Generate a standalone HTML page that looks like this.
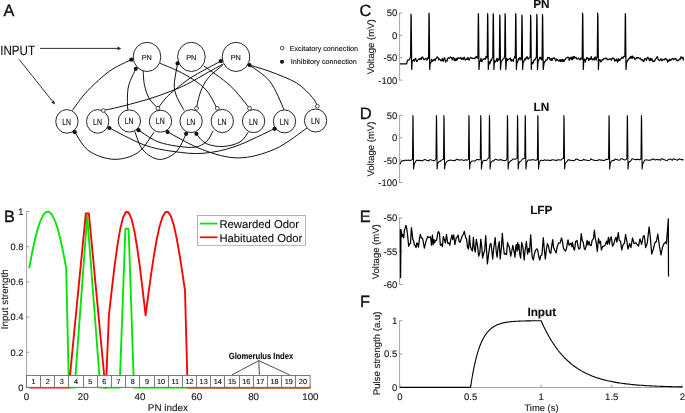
<!DOCTYPE html>
<html><head><meta charset="utf-8"><title>Figure</title>
<style>
html,body{margin:0;padding:0;background:#fff;width:685px;height:413px;overflow:hidden}
svg{display:block}
text{font-family:"Liberation Sans",Arial,Helvetica,sans-serif;text-rendering:geometricPrecision;stroke:#111;stroke-width:0.12px}
.pl{stroke-width:0.35px}
</style></head><body>
<svg width="685" height="413" viewBox="0 0 685 413">
<g id="panelA">
<text x="3.6" y="15.7" font-size="16.3" fill="#111" class="pl">A</text>
<text x="0.2" y="54.7" font-size="13.4" textLength="34.8" lengthAdjust="spacingAndGlyphs" fill="#111">INPUT</text>
<path d="M40 48.4H118" stroke="#333" stroke-width="1" fill="none"/>
<path d="M121.2 48.4L117.6 46.6L117.6 50.2Z" fill="#222"/>
<path d="M19 59.3L52.6 101.4" stroke="#333" stroke-width="1" fill="none"/>
<path d="M55 104.4L51.22 102.55L54.04 100.31Z" fill="#222"/>
<path d="M72.4 110.4C74.3 107.83 79.47 100 83.8 95C88.13 90 93.53 84.77 98.4 80.4C103.27 76.03 107.52 72.25 113 68.8C118.48 65.35 128.25 61.22 131.3 59.7" stroke="#111" stroke-width="1.0" fill="none"/>
<path d="M127.8 110C127.73 108.02 127.22 102.33 127.4 98.1C127.58 93.87 127.5 89.48 128.9 84.6C130.3 79.72 134.65 71.43 135.8 68.8" stroke="#111" stroke-width="1.0" fill="none"/>
<path d="M143.2 71C143.4 73.27 143.43 80.08 144.4 84.6C145.37 89.12 146.77 94.17 149 98.1C151.23 102.03 156.33 106.52 157.8 108.2" stroke="#111" stroke-width="1.0" fill="none"/>
<path d="M159.6 63.2C162.5 64.42 171.35 67.75 177 70.5C182.65 73.25 188.5 76.28 193.5 79.7C198.5 83.12 203.12 86.28 207 91C210.88 95.72 215.17 105.17 216.8 108" stroke="#111" stroke-width="1.0" fill="none"/>
<path d="M103.5 110.4C106.25 109.8 112.25 108.77 120 106.8C127.75 104.83 140.77 101.5 150 98.6C159.23 95.7 168.73 92.07 175.4 89.4C182.07 86.73 184.9 85.25 190 82.6C195.1 79.95 200.45 76.6 206 73.5C211.55 70.4 220.42 65.58 223.3 64" stroke="#111" stroke-width="1.0" fill="none"/>
<path d="M158.6 107.4C159.83 105.8 163.2 100.8 166 97.8C168.8 94.8 171.4 92.67 175.4 89.4C179.4 86.13 185.07 81.5 190 78.2C194.93 74.9 199.87 72.45 205 69.6C210.13 66.75 218.17 62.52 220.8 61.1" stroke="#111" stroke-width="1.0" fill="none"/>
<path d="M184.2 110.6C182.92 108.17 178.15 100.43 176.5 96C174.85 91.57 174.12 89.43 174.3 84C174.48 78.57 177.05 66.83 177.6 63.4" stroke="#111" stroke-width="1.0" fill="none"/>
<path d="M196.4 108.2C197.08 105.5 198.57 97 200.5 92C202.43 87 204.32 82.67 208 78.2C211.68 73.73 220.17 67.37 222.6 65.2" stroke="#111" stroke-width="1.0" fill="none"/>
<path d="M203.7 65.9C208.08 69.17 222.37 78.45 230 85.5C237.63 92.55 246.25 104.42 249.5 108.2" stroke="#111" stroke-width="1.0" fill="none"/>
<path d="M249.4 65.1C252.83 67.85 264.22 74.18 270 81.6C275.78 89.02 281.75 104.93 284.1 109.6" stroke="#111" stroke-width="1.0" fill="none"/>
<path d="M249.4 65.1C252.83 66.17 262.13 68.52 270 71.5C277.87 74.48 289.53 78.68 296.6 83C303.67 87.32 308.93 93.55 312.4 97.4C315.87 101.25 316.57 104.65 317.4 106.1" stroke="#111" stroke-width="1.0" fill="none"/>
<path d="M74.8 132.2C77.17 135.33 82.47 146.48 89 151C95.53 155.52 105.83 159.05 114 159.3C122.17 159.55 131.33 157.02 138 152.5C144.67 147.98 151.33 135.58 154 132.2" stroke="#111" stroke-width="1.0" fill="none"/>
<path d="M109.5 128C115.22 130.8 133.22 140.9 143.8 144.8C154.38 148.7 163.13 149.98 173 151.4C182.87 152.82 192.67 154.12 203 153.3C213.33 152.48 223.08 150.6 235 146.5C246.92 142.4 267.92 131.67 274.5 128.7" stroke="#111" stroke-width="1.0" fill="none"/>
<path d="M138.5 130.2C142.08 132.25 151.2 139.63 160 142.5C168.8 145.37 183.63 147.48 191.3 147.4C198.97 147.32 202.37 144.77 206 142C209.63 139.23 211.92 132.67 213.1 130.8" stroke="#111" stroke-width="1.0" fill="none"/>
<path d="M134.7 131.3C136.08 134.42 138.9 145.32 143 150C147.1 154.68 153.8 159.07 159.3 159.4C164.8 159.73 171.52 156.25 176 152C180.48 147.75 184.5 136.92 186.2 133.9" stroke="#111" stroke-width="1.0" fill="none"/>
<path d="M167.7 132C173.52 134.95 190.8 145.38 202.6 149.7C214.4 154.02 226.43 158.02 238.5 157.9C250.57 157.78 263.6 153.97 275 149C286.4 144.03 301.58 131.58 306.9 128.1" stroke="#111" stroke-width="1.0" fill="none"/>
<path d="M196.4 133.9C198 135.5 201.6 141.4 206 143.5C210.4 145.6 217.13 146.75 222.8 146.5C228.47 146.25 235.77 144.38 240 142C244.23 139.62 246.83 133.83 248.2 132.2" stroke="#111" stroke-width="1.0" fill="none"/>
<ellipse cx="147" cy="56.9" rx="13.8" ry="14.6" fill="#fff" stroke="#111" stroke-width="0.9"/>
<text x="146.8" y="60.3" font-size="7.3" text-anchor="middle" fill="#111">PN</text>
<ellipse cx="191.4" cy="56.9" rx="13.8" ry="14.6" fill="#fff" stroke="#111" stroke-width="0.9"/>
<text x="191.2" y="60.3" font-size="7.3" text-anchor="middle" fill="#111">PN</text>
<ellipse cx="236" cy="56.9" rx="13.8" ry="14.6" fill="#fff" stroke="#111" stroke-width="0.9"/>
<text x="235.8" y="60.3" font-size="7.3" text-anchor="middle" fill="#111">PN</text>
<ellipse cx="66.9" cy="121.4" rx="11.15" ry="11.8" fill="#fff" stroke="#111" stroke-width="0.9"/>
<text x="66.7" y="124.6" font-size="9.0" text-anchor="middle" textLength="8.9" lengthAdjust="spacingAndGlyphs" fill="#111">LN</text>
<ellipse cx="97.7" cy="121.4" rx="11.15" ry="11.8" fill="#fff" stroke="#111" stroke-width="0.9"/>
<text x="97.5" y="124.6" font-size="9.0" text-anchor="middle" textLength="8.9" lengthAdjust="spacingAndGlyphs" fill="#111">LN</text>
<ellipse cx="129.4" cy="121" rx="11.15" ry="11.1" fill="#fff" stroke="#111" stroke-width="0.9"/>
<text x="129.2" y="123.5" font-size="9.0" text-anchor="middle" textLength="8.9" lengthAdjust="spacingAndGlyphs" fill="#111">LN</text>
<ellipse cx="160.5" cy="121.2" rx="11.15" ry="11" fill="#fff" stroke="#111" stroke-width="0.9"/>
<text x="160.3" y="123.6" font-size="9.0" text-anchor="middle" textLength="8.9" lengthAdjust="spacingAndGlyphs" fill="#111">LN</text>
<ellipse cx="191.1" cy="121.1" rx="11.15" ry="11.5" fill="#fff" stroke="#111" stroke-width="0.9"/>
<text x="190.9" y="124.6" font-size="9.0" text-anchor="middle" textLength="8.9" lengthAdjust="spacingAndGlyphs" fill="#111">LN</text>
<ellipse cx="222.3" cy="121" rx="11.15" ry="11.6" fill="#fff" stroke="#111" stroke-width="0.9"/>
<text x="222.1" y="124.6" font-size="9.0" text-anchor="middle" textLength="8.9" lengthAdjust="spacingAndGlyphs" fill="#111">LN</text>
<ellipse cx="253.6" cy="121.1" rx="11.15" ry="11.5" fill="#fff" stroke="#111" stroke-width="0.9"/>
<text x="253.4" y="124.6" font-size="9.0" text-anchor="middle" textLength="8.9" lengthAdjust="spacingAndGlyphs" fill="#111">LN</text>
<ellipse cx="284.5" cy="121.4" rx="11.15" ry="11.5" fill="#fff" stroke="#111" stroke-width="0.9"/>
<text x="284.3" y="124.8" font-size="9.0" text-anchor="middle" textLength="8.9" lengthAdjust="spacingAndGlyphs" fill="#111">LN</text>
<ellipse cx="315.6" cy="120.5" rx="11.15" ry="11.5" fill="#fff" stroke="#111" stroke-width="0.9"/>
<text x="315.4" y="123.9" font-size="9.0" text-anchor="middle" textLength="8.9" lengthAdjust="spacingAndGlyphs" fill="#111">LN</text>
<circle cx="131.3" cy="59.7" r="2.1" fill="#111"/>
<circle cx="135.8" cy="68.8" r="2.1" fill="#111"/>
<circle cx="177.6" cy="63.4" r="2.1" fill="#111"/>
<circle cx="220.8" cy="61.1" r="2.1" fill="#111"/>
<circle cx="249.5" cy="65" r="2.1" fill="#111"/>
<circle cx="74.7" cy="132.2" r="2.1" fill="#111"/>
<circle cx="109.4" cy="128" r="2.1" fill="#111"/>
<circle cx="138.5" cy="130.2" r="2.1" fill="#111"/>
<circle cx="167.6" cy="132" r="2.1" fill="#111"/>
<circle cx="186.1" cy="133.8" r="2.1" fill="#111"/>
<circle cx="196.4" cy="133.8" r="2.1" fill="#111"/>
<circle cx="274.6" cy="128.8" r="2.1" fill="#111"/>
<circle cx="103.3" cy="110.5" r="1.9" fill="#fff" stroke="#222" stroke-width="0.8"/>
<circle cx="157.9" cy="108.3" r="1.9" fill="#fff" stroke="#222" stroke-width="0.8"/>
<circle cx="196.5" cy="108.3" r="1.9" fill="#fff" stroke="#222" stroke-width="0.8"/>
<circle cx="217.3" cy="108.3" r="1.9" fill="#fff" stroke="#222" stroke-width="0.8"/>
<circle cx="249.5" cy="108.3" r="1.9" fill="#fff" stroke="#222" stroke-width="0.8"/>
<circle cx="317.4" cy="106.2" r="1.9" fill="#fff" stroke="#222" stroke-width="0.8"/>
<circle cx="282.2" cy="48.1" r="1.8" fill="#fff" stroke="#222" stroke-width="0.8"/>
<circle cx="282.0" cy="61.8" r="2.0" fill="#111"/>
<text x="289.7" y="50.6" font-size="7.2" fill="#111">Excitatory connection</text>
<text x="290.8" y="64.4" font-size="7.2" fill="#111">Inhibitory connection</text>
</g>
<g id="panelB">
<text x="3.9" y="221.8" font-size="16.3" fill="#111" class="pl">B</text>
<path d="M26.6 211.3V387.6H310.5" stroke="#8c8c8c" stroke-width="0.8" fill="none"/>
<path d="M26.6 387.5H29.4" stroke="#8c8c8c" stroke-width="0.8"/>
<text x="23.5" y="390.8" font-size="9.3" text-anchor="end" fill="#1a1a1a">0</text>
<path d="M26.6 352.3H29.4" stroke="#8c8c8c" stroke-width="0.8"/>
<text x="23.5" y="355.6" font-size="9.3" text-anchor="end" fill="#1a1a1a">0.2</text>
<path d="M26.6 317.1H29.4" stroke="#8c8c8c" stroke-width="0.8"/>
<text x="23.5" y="320.4" font-size="9.3" text-anchor="end" fill="#1a1a1a">0.4</text>
<path d="M26.6 281.9H29.4" stroke="#8c8c8c" stroke-width="0.8"/>
<text x="23.5" y="285.2" font-size="9.3" text-anchor="end" fill="#1a1a1a">0.6</text>
<path d="M26.6 246.7H29.4" stroke="#8c8c8c" stroke-width="0.8"/>
<text x="23.5" y="250" font-size="9.3" text-anchor="end" fill="#1a1a1a">0.8</text>
<path d="M26.6 211.5H29.4" stroke="#8c8c8c" stroke-width="0.8"/>
<text x="23.5" y="214.8" font-size="9.3" text-anchor="end" fill="#1a1a1a">1</text>
<path d="M26.4 387.6V384.8" stroke="#8c8c8c" stroke-width="0.8"/>
<text x="26.4" y="399.8" font-size="9.8" text-anchor="middle" fill="#1a1a1a">0</text>
<path d="M83.2 387.6V384.8" stroke="#8c8c8c" stroke-width="0.8"/>
<text x="83.2" y="399.8" font-size="9.8" text-anchor="middle" fill="#1a1a1a">20</text>
<path d="M140 387.6V384.8" stroke="#8c8c8c" stroke-width="0.8"/>
<text x="140" y="399.8" font-size="9.8" text-anchor="middle" fill="#1a1a1a">40</text>
<path d="M196.8 387.6V384.8" stroke="#8c8c8c" stroke-width="0.8"/>
<text x="196.8" y="399.8" font-size="9.8" text-anchor="middle" fill="#1a1a1a">60</text>
<path d="M253.6 387.6V384.8" stroke="#8c8c8c" stroke-width="0.8"/>
<text x="253.6" y="399.8" font-size="9.8" text-anchor="middle" fill="#1a1a1a">80</text>
<path d="M310.4 387.6V384.8" stroke="#8c8c8c" stroke-width="0.8"/>
<text x="310.4" y="399.8" font-size="9.8" text-anchor="middle" fill="#1a1a1a">100</text>
<text x="167.9" y="410.8" font-size="9.9" text-anchor="middle" fill="#1a1a1a">PN index</text>
<text transform="translate(8.4 299.3) rotate(-90)" font-size="9.8" text-anchor="middle" fill="#1a1a1a">Input strength</text>
<path d="M29.24 268.14L32.08 252.72L34.92 239.47L37.76 228.6L40.6 220.3L43.44 214.68L46.28 211.85L49.12 211.85L51.96 214.68L54.8 220.3L57.64 228.6L60.48 239.47L63.32 252.72L66.16 268.14L68.9 387.6L74.6 387.6L87.2 215.7L100.3 387.6L119.6 387.6L125.4 228.7L128.6 228.7L134 387.6L310.4 387.6" stroke="#00e600" stroke-width="1.85" fill="none" stroke-linejoin="round"/>
<path d="M29.24 387.6L68.8 387.6L85.8 213.5L88.9 213.5L105.3 387.6L105.9 387.6L108.9 315.4L111.72 290.15L114.55 266.47L117.37 245.71L120.19 229.1L123.02 217.65L125.84 212.03L128.66 212.52L131.48 218.86L134.31 230.65L137.13 247.24L139.95 267.68L142.78 290.82L145.6 315.34L148.41 293.94L151.23 273.46L154.04 254.78L156.86 238.7L159.67 225.91L162.49 216.95L165.3 212.22L168.11 211.94L170.93 216.29L173.74 225.06L176.56 237.72L179.37 253.53L182.19 271.55L185 290.7L187.6 387.6L310.4 387.6" stroke="#ff0000" stroke-width="1.85" fill="none" stroke-linejoin="round"/>
<g stroke="#6e6e6e" stroke-width="0.9" fill="none">
<rect x="26.5" y="375.5" width="283.6" height="11.8" fill="#fff"/>
<path d="M40.5 375.5V387.3"/>
<path d="M54.5 375.5V387.3"/>
<path d="M68.5 375.5V387.3"/>
<path d="M83.5 375.5V387.3"/>
<path d="M97.5 375.5V387.3"/>
<path d="M111.5 375.5V387.3"/>
<path d="M125.5 375.5V387.3"/>
<path d="M139.5 375.5V387.3"/>
<path d="M154.5 375.5V387.3"/>
<path d="M168.5 375.5V387.3"/>
<path d="M182.5 375.5V387.3"/>
<path d="M196.5 375.5V387.3"/>
<path d="M210.5 375.5V387.3"/>
<path d="M224.5 375.5V387.3"/>
<path d="M239.5 375.5V387.3"/>
<path d="M253.5 375.5V387.3"/>
<path d="M267.5 375.5V387.3"/>
<path d="M281.5 375.5V387.3"/>
<path d="M295.5 375.5V387.3"/>
</g>
<text x="33.49" y="384.2" font-size="7.3" text-anchor="middle" fill="#111">1</text>
<text x="47.67" y="384.2" font-size="7.3" text-anchor="middle" fill="#111">2</text>
<text x="61.85" y="384.2" font-size="7.3" text-anchor="middle" fill="#111">3</text>
<text x="76.03" y="384.2" font-size="7.3" text-anchor="middle" fill="#111">4</text>
<text x="90.21" y="384.2" font-size="7.3" text-anchor="middle" fill="#111">5</text>
<text x="104.39" y="384.2" font-size="7.3" text-anchor="middle" fill="#111">6</text>
<text x="118.57" y="384.2" font-size="7.3" text-anchor="middle" fill="#111">7</text>
<text x="132.75" y="384.2" font-size="7.3" text-anchor="middle" fill="#111">8</text>
<text x="146.93" y="384.2" font-size="7.3" text-anchor="middle" fill="#111">9</text>
<text x="161.11" y="384.2" font-size="7.3" text-anchor="middle" fill="#111">10</text>
<text x="175.29" y="384.2" font-size="7.3" text-anchor="middle" fill="#111">11</text>
<text x="189.47" y="384.2" font-size="7.3" text-anchor="middle" fill="#111">12</text>
<text x="203.65" y="384.2" font-size="7.3" text-anchor="middle" fill="#111">13</text>
<text x="217.83" y="384.2" font-size="7.3" text-anchor="middle" fill="#111">14</text>
<text x="232.01" y="384.2" font-size="7.3" text-anchor="middle" fill="#111">15</text>
<text x="246.19" y="384.2" font-size="7.3" text-anchor="middle" fill="#111">16</text>
<text x="260.37" y="384.2" font-size="7.3" text-anchor="middle" fill="#111">17</text>
<text x="274.55" y="384.2" font-size="7.3" text-anchor="middle" fill="#111">18</text>
<text x="288.73" y="384.2" font-size="7.3" text-anchor="middle" fill="#111">19</text>
<text x="302.91" y="384.2" font-size="7.3" text-anchor="middle" fill="#111">20</text>
<text x="261" y="359.1" font-size="8.9" font-weight="bold" text-anchor="middle" fill="#111" textLength="64.5" lengthAdjust="spacingAndGlyphs">Glomerulus Index</text>
<path d="M232 374.9L258.8 360.6L259.4 374.9M258.8 360.6L289.6 374.9" stroke="#222" stroke-width="0.8" fill="none"/>
<rect x="197.4" y="215.5" width="108.2" height="29.8" fill="#fff" stroke="#a0a0a0" stroke-width="0.8"/>
<path d="M199.9 223.6H217.5" stroke="#00e600" stroke-width="1.7"/>
<path d="M199.9 237.3H217.5" stroke="#ff0000" stroke-width="1.7"/>
<text x="219.4" y="227.9" font-size="11.3" fill="#111">Rewarded Odor</text>
<text x="219.4" y="241.6" font-size="11.3" fill="#111">Habituated Odor</text>
</g>
<g id="panelC">
<text x="359.6" y="15.5" font-size="16.3" fill="#111" class="pl">C</text>
<text x="541.4" y="8.1" font-size="11.8" font-weight="bold" text-anchor="middle" fill="#111">PN</text>
<path d="M399.6 12.6V80.4" stroke="#8c8c8c" stroke-width="0.8" fill="none"/><path d="M399.6 13H402.4" stroke="#8c8c8c" stroke-width="0.8"/><text x="397.3" y="16.4" font-size="9.5" text-anchor="end" fill="#1a1a1a">50</text><path d="M399.6 35.4H402.4" stroke="#8c8c8c" stroke-width="0.8"/><text x="397.3" y="38.8" font-size="9.5" text-anchor="end" fill="#1a1a1a">0</text><path d="M399.6 57.8H402.4" stroke="#8c8c8c" stroke-width="0.8"/><text x="397.3" y="61.2" font-size="9.5" text-anchor="end" fill="#1a1a1a">-50</text><path d="M399.6 80.2H402.4" stroke="#8c8c8c" stroke-width="0.8"/><text x="397.3" y="83.6" font-size="9.5" text-anchor="end" fill="#1a1a1a">-100</text>
<text transform="translate(374.4 46.9) rotate(-90)" font-size="9.5" text-anchor="middle" fill="#1a1a1a">Voltage (mV)</text>
<path d="M400 63.85L406.7 63.85L407.2 61.2L407.7 60.09L408.2 60.08L408.7 59.93L409.2 59.92L409.7 59.23L410.2 57.36L410.7 56.96L410.6 56.68L411 14.21L411.2 16.9L411.7 69.45L412.2 61.3L412.7 60.69L413.2 59.99L413.7 59.69L414.2 61.33L414.7 59.46L415.2 58.83L415.7 58.47L416.2 60.52L416.7 61.57L417.2 61.21L417.7 60.57L418.2 59.45L418.7 59.25L419.2 58.56L419.7 59.41L420.2 58.85L420.7 58.48L421.2 59.39L421.7 57.39L422.2 57.58L422.7 57.02L423.2 58.61L423.7 59.53L424.2 59.58L424.7 59.36L425.2 58.49L425.7 58.45L426.2 59.14L426.7 60.02L427.2 59.87L427.7 57.73L428.2 58.59L428.7 57.76L428.6 56.68L429 13.22L429.2 15.91L429.7 69.45L430.2 62.33L430.7 62.99L431.2 61.5L431.7 59.29L432.2 61.49L432.7 60.76L433.2 60.1L433.7 60.47L434.2 59.26L434.7 59.21L435.2 60.62L435.7 58.95L436.2 58.26L436.7 57.63L437.2 56.8L437.7 57.5L438.2 58.09L438.7 59.85L439.2 58.75L439.7 59.47L440.2 59.66L440.7 60.6L441.2 60.76L441.7 60.38L442.2 58.32L442.7 60.72L443.2 61.32L443.7 59.87L444.2 57.91L444.7 57.82L445.2 60.33L445.7 62.22L446.2 60.2L446.7 60.32L447.2 60.77L447.7 58.84L448.2 57.74L448.7 58.17L449.2 58.29L449.7 58.16L450.2 56.9L450.7 57.27L451.2 57.56L451.7 57.68L452.2 59.91L452.7 58.1L453.2 57.52L453.7 57.68L454.2 60.33L454.7 60.28L455.2 58.73L455.7 60.69L456.2 60L456.7 58.41L457.2 60.01L457.7 57.81L458.2 57.8L458.7 58.51L459.2 58.38L459.7 57.98L460.2 58.33L460.7 57.44L461.2 58.86L461.7 59.32L462.2 58.05L462.7 58.46L463.2 59.59L463.7 58.28L464.2 57.09L464.7 58.46L465.2 60.11L465.7 59.66L466.2 59.44L466.7 59.49L467.2 57.76L467.7 59.4L468.2 57.86L468.7 59.7L469.2 60.12L469.7 58.87L470.2 57.73L470.7 57.44L471.2 57.82L471.7 58.23L472.2 58.42L472.7 58.08L473.2 58.68L473.7 58.51L474.2 58.13L474.7 58.52L475.2 57.93L475.7 57.84L476.2 56.31L476.7 57.01L477.2 57.94L477.7 58.17L478.2 57.75L477.9 56.68L478.3 13.72L478.5 16.4L479 69.45L479.5 61.88L480 61.58L480.5 60.45L481 58.22L481.5 61.52L482 61.6L482.5 60.17L483 59.24L483.5 58.92L484 59.42L484.5 58.54L485 58.47L485.5 59.25L486 56.33L486.5 56.8L487 57.8L487.5 57.66L487.2 56.68L487.6 13.72L487.8 16.4L488.3 69.45L488.8 63L489.3 61.86L489.8 63.8L490.3 62.29L490.8 59.87L491.3 60.75L491.8 59.69L492.3 57.9L492.8 56.9L492.8 56.68L493.2 13.72L493.4 16.4L493.9 69.45L494.4 60.63L494.9 62.36L495.4 61.6L495.9 61.04L496.4 59.65L496.9 58.38L497.4 61.57L497.9 59.17L498.4 60.25L498.9 58.4L499.4 59.53L499.4 56.68L499.8 15.02L500 17.7L500.5 69.45L501 63.37L501.5 60.75L502 60.58L502.5 59.98L503 58.94L503.5 58.73L504 58.61L504.5 56.66L505 55.98L504.7 56.68L505.1 13.72L505.3 16.4L505.8 69.45L506.3 62.11L506.8 58.52L507.3 60.5L507.8 59.2L508.3 59.64L508.8 59.36L509.3 58.57L509.8 58.63L510.3 58.2L510.8 60.19L511.3 61.15L511.8 59.43L512.3 60.19L512.8 60.63L513.3 61.3L513.8 58.75L514.3 57.7L514.8 56.26L515.3 57.85L515.3 56.68L515.7 13.72L515.9 16.4L516.4 69.45L516.9 62.77L517.4 62.85L517.9 60.7L518.4 58.6L518.9 59.98L519.4 58.06L519.9 57.63L520.4 58.24L520.9 60.19L521.4 57.49L521.5 56.68L521.9 15.02L522.1 17.7L522.6 69.45L523.1 62.56L523.6 62.2L524.1 60.74L524.6 59.84L525.1 58.14L525.6 59.8L526.1 58.35L526.6 57.21L527.1 56.65L527.6 58.03L528.1 59.28L528.6 58.08L529.1 58.07L529.6 57.88L530.1 56.27L530.2 56.68L530.6 15.02L530.8 17.7L531.3 69.45L531.8 62.2L532.3 63.76L532.8 62.34L533.3 62.97L533.8 60.41L534.3 59.56L534.8 60.03L535.3 59.26L535.8 57.81L536.3 57.67L536.4 56.68L536.8 14.43L537 17.12L537.5 69.45L538 61.19L538.5 60.95L539 59.46L539.5 58.08L540 57.15L540.5 58.95L541 57.85L541.5 59.93L542 59.95L542.1 56.68L542.5 14.7L542.7 17.39L543.2 69.45L543.7 65.68L544.2 62.03L544.7 62.34L545.2 61.07L545.7 60.5L546.2 59.96L546.7 60.21L547.2 59.44L547.7 57.41L548.2 58.18L548.7 58.04L549.2 57.48L549.7 58.43L550.2 59.99L550.7 60.04L551.2 58.38L551.7 60.35L552.2 60.26L552.7 58.55L553.2 57.92L553.7 58.41L554.2 57.84L554.7 58.21L555.2 59.78L555.7 60.96L556.2 60.6L556.7 58.81L557.2 59.45L557.7 60.11L558.2 60.31L558.7 61.19L559.2 60.18L559.7 60.76L560.2 59.47L560.7 61.63L561.2 59.93L561.7 60.09L562.2 61.51L562.7 59.47L563.2 59.48L563.7 61.5L564.2 61.11L564.7 59.72L565.2 59.79L565.7 58.55L566.2 57.97L566.7 57.76L567.2 58L567.7 57.09L568.2 57.32L568.7 57.66L569.2 60.44L569.7 58.75L570.2 57.49L570.7 58.51L571.2 59.2L571.7 57.06L572.2 59.8L572.7 58.88L573.2 56.4L573.7 58.62L574.2 58.06L574.7 56.55L575.2 57.86L575.7 57.81L576.2 57.43L576.7 59.11L577.2 59.11L577.7 58.71L578.2 57.97L578.7 58.48L579.2 58.9L579.7 59.96L580.2 59.81L580.7 58.38L581.2 58.17L581.7 58.89L582.2 59.07L582.2 56.68L582.6 13.22L582.8 15.91L583.3 69.45L583.8 60.63L584.3 59.44L584.8 59.12L585.3 62.12L585.8 60.19L586.3 59.28L586.8 57.52L587.3 57.89L587.8 58.56L588.3 58.26L588.8 60.63L589.3 58.74L589.8 58.52L590.3 59.46L590.8 57.83L591.3 56.52L591.8 59.17L592.3 59.74L592.8 59.03L593.3 58.79L593.8 59.27L594.3 60.1L594.8 57.32L595.3 57.05L595.8 59.15L596.3 60.05L596.8 57.19L597.3 56.33L597.3 56.68L597.7 13.22L597.9 15.91L598.4 69.45L598.9 60.14L599.4 59.53L599.9 60.72L600.4 59.98L600.9 61.98L601.4 61.44L601.9 60.4L602.4 59.23L602.9 59.91L603.4 59.6L603.9 58.83L604.4 58.52L604.9 58.08L605.4 58.3L605.9 58.96L606.4 58.13L606.9 58.48L607.4 59.56L607.9 59.89L608.4 59.41L608.9 59.28L609.4 58.94L609.9 58.93L610.4 58.74L610.9 58.97L611.4 60.24L611.9 59.15L612.4 57.95L612.9 57.99L613.4 58.65L613.9 58.32L614.4 59.62L614.9 61.22L615.4 60.01L615.9 60.42L616.4 58.91L616.9 60.03L617.4 62.18L617.9 61.62L618.4 58.65L618.9 59.18L619.4 60.46L619.9 60.48L620.4 59.16L620.9 58.53L621.4 58.54L621.9 57.2L622.4 57.33L622.9 58.15L623.4 57.85L623.9 56.31L624.4 56.08L624.9 55.74L624.9 56.68L625.3 13.72L625.5 16.4L626 69.45L626.5 62.83L627 61.86L627.5 60.24L628 60.31L628.5 58.82L629 58.48L629.5 57.92L630 58.75L630.5 56.29L631 56.39L631.5 57.92L632 58.35L632.5 55.98L633 57.82L633.5 57.48L634 57.2L634.5 58.06L635 59.7L635.5 59.12L636 58.65L636.5 57.62L637 57.47L637.5 58.17L638 57.66L638.5 57.74L639 58.12L639.5 58.46L640 58.94L640.5 58.22L641 59.66L641.5 59.94L642 59.42L642.5 60.68L643 60.25L643.5 61.65L644 60.99L644.5 59.37L645 58.56L645.5 58.8L646 59.1L646.5 60.47L647 57.81L647.5 57.83L648 57.25L648.5 58.99L649 59.15L649.5 60.91L650 59.11L650.5 58.05L651 60.44L651.5 59.73L652 58.68L652.5 60.61L653 61.65L653.5 61.38L654 60.8L654.5 61.31L655 60.08L655.5 59.24L656 58.43L656.5 57.95L657 56.89L657.5 56.7L658 59.16L658.5 59.56L659 60.33L659.5 60.74L660 59.91L660.5 59.41L661 58.66L661.5 60.43L662 60.95L662.5 59.96L663 59.64L663.5 59.6L664 59.33L664.5 59.91L665 58.69L665.5 58.44L666 58.77L666.5 59.54L667 59.41L667.5 61.97L668 61.46L668.5 60.15L669 61.08L669.5 59.8L670 59.21L670.5 60.48L671 59.96L671.5 59.76L672 58.87L672.5 58.26L673 58.63L673.5 59.65L674 59.43L674.5 59.24L675 58.33L675.5 58.32L676 59.36L676.5 60.54L677 60.11L677.5 60.28L678 60.75L678.5 59.95L679 59.94L679.5 59.32L680 58.58L680.5 59.18L681 56.65L681.5 58.12L682 57.38L682.5 58.03L683 57.32L683.5 60.57" stroke="#000" stroke-width="1.2" fill="none" stroke-linejoin="round"/>
</g>
<g id="panelD">
<text x="359.8" y="118.7" font-size="16.5" fill="#111" class="pl">D</text>
<text x="541.4" y="110.7" font-size="11.8" font-weight="bold" text-anchor="middle" fill="#111">LN</text>
<path d="M399.6 115.3V182.9" stroke="#8c8c8c" stroke-width="0.8" fill="none"/><path d="M399.6 115.45H402.4" stroke="#8c8c8c" stroke-width="0.8"/><text x="397.3" y="118.85" font-size="9.5" text-anchor="end" fill="#1a1a1a">50</text><path d="M399.6 137.8H402.4" stroke="#8c8c8c" stroke-width="0.8"/><text x="397.3" y="141.2" font-size="9.5" text-anchor="end" fill="#1a1a1a">0</text><path d="M399.6 160.15H402.4" stroke="#8c8c8c" stroke-width="0.8"/><text x="397.3" y="163.55" font-size="9.5" text-anchor="end" fill="#1a1a1a">-50</text><path d="M399.6 182.5H402.4" stroke="#8c8c8c" stroke-width="0.8"/><text x="397.3" y="185.9" font-size="9.5" text-anchor="end" fill="#1a1a1a">-100</text>
<text transform="translate(374.4 149.1) rotate(-90)" font-size="9.5" text-anchor="middle" fill="#1a1a1a">Voltage (mV)</text>
<path d="M400 164.4L400 164.4L400.5 162.69L401 162.01L401.5 161.56L402 161.14L402.5 160.83L403 160.58L403.5 160.62L404 160.53L404.5 160.62L405 160.21L405.5 160.13L406 160.31L406.5 160.38L407 160.48L407.5 160.31L408 160.27L408.5 159.99L409 160.19L409.5 160.37L410 160.62L410.5 160.16L411 160.16L411.5 160.08L412 159.55L412.5 159.42L412.5 158.04L412.9 115.45L413.1 118.13L413.6 169.09L414.1 164.69L414.6 163.52L415.1 162.49L415.6 161.32L416.1 160.91L416.6 160.37L417.1 160.41L417.6 160.14L418.1 160.52L418.6 160.49L419.1 160.27L419.6 160.23L420.1 160.66L420.6 160.84L421.1 160.59L421.6 160.57L422.1 160.84L422.6 160.87L423.1 160.19L423.6 159.88L424.1 159.73L424.6 159.53L425.1 159.69L425.6 159.67L426.1 160.07L426.6 160.27L427.1 160.51L427.6 160.52L428.1 160.74L428.6 160.89L429.1 160.54L429.6 159.87L430.1 159.74L430.6 159.67L431.1 159.89L431.6 160.16L432.1 160.2L432.6 160.37L433.1 160.57L433.6 160.76L434.1 160.82L434.6 160.54L435.1 160.19L435.6 159.83L436.1 158.13L436 157L436.4 115.45L436.6 118.13L437.1 169.09L437.6 163.77L438.1 162.65L438.6 161.87L439.1 161.69L439.6 161.62L440.1 161.11L440.6 161.12L441.1 160.47L441.6 160.2L442.1 159.83L442.6 159.48L443.1 159.56L443.6 158.99L443.5 157.95L443.9 115.45L444.1 118.13L444.6 169.09L445.1 164.73L445.6 163.48L446.1 162.58L446.6 161.83L447.1 161.4L447.6 161.06L448.1 160.85L448.6 160.47L449.1 160.55L449.6 160.24L450.1 160.1L450.6 160.3L451.1 160.26L451.6 160.3L452.1 160.26L452.6 160.54L453.1 160.64L453.6 160.68L454.1 160.39L454.6 160.44L455.1 160.63L455.6 160.22L456.1 159.57L456.6 159.31L457.1 159.35L457.6 159.49L458.1 159.79L458.6 159.91L459.1 159.76L459.6 160L460.1 160.14L460.6 159.88L461.1 159.77L461.6 159.78L462.1 160.01L462.6 160.04L463.1 160.14L463.6 160.38L464.1 160.51L464.6 160.13L465.1 159.88L465.6 159.62L466.1 160.13L466.6 160.08L467.1 160.11L467.6 159.92L468.1 159.6L468.6 158.79L468.5 157.47L468.9 115.45L469.1 118.13L469.6 169.09L470.1 163.71L470.6 162.55L471.1 161.88L471.6 161.37L472.1 160.95L472.6 160.93L473.1 160.97L473.6 160.96L474.1 160.92L474.6 160.94L475.1 160.61L475.6 160.65L476.1 160.14L476.6 159.45L477.1 159.53L477.6 159.41L478.1 159.48L478.6 159.93L479.1 159.88L479.6 159.62L480.1 159.15L480.6 158.82L480.3 158.07L480.7 115.45L480.9 118.13L481.4 169.09L481.9 164.54L482.4 162.21L482.9 161.2L483.4 160.63L483.9 160.38L484.4 160.27L484.9 160.47L485.4 160.45L485.9 160.53L486.4 160.37L486.9 160.13L487.4 159.04L487.9 158.62L488.4 158.39L488.9 157.94L489 156.72L489.4 115.45L489.6 118.13L490.1 169.09L490.6 163.81L491.1 162.26L491.6 161.62L492.1 161.34L492.6 160.86L493.1 160.7L493.6 160.89L494.1 160.75L494.6 159.82L495.1 159.25L495.6 159.14L496.1 159.32L496.6 159.47L497.1 159.79L497.6 160.05L498.1 159.92L498.6 160.15L499.1 160.27L499.6 159.9L500.1 159.58L500.6 159.51L501.1 159.95L501.6 159.88L502.1 160.2L502.6 160.26L503.1 160.43L503.6 160.47L504.1 160.39L504.6 160.62L505.1 160.42L505.6 160.57L506.1 160.33L506.6 159.25L507.1 158.72L507 157.38L507.4 115.45L507.6 118.13L508.1 169.09L508.6 163.97L509.1 162.53L509.6 161.65L510.1 161.53L510.6 160.98L511.1 160.56L511.6 160.49L512.1 159.87L512.6 159.27L513.1 158.96L513.6 159.03L514.1 159.03L514.6 159.17L515.1 159.35L515.6 159.3L516.1 158.92L516.6 158.6L517.1 157.96L517.1 156.97L517.5 115.45L517.7 118.13L518.2 169.09L518.7 163.95L519.2 162.71L519.7 161.89L520.2 161.41L520.7 161.19L521.2 160.91L521.7 160.29L522.2 159.38L522.7 158.93L523.2 158.72L523.7 158.56L524.2 158.46L524.7 158.36L524.8 157.47L525.2 115.45L525.4 118.13L525.9 169.09L526.4 163.85L526.9 162.11L527.4 160.98L527.9 160.36L528.4 159.97L528.9 159.95L529.4 160.05L529.9 160.07L530.4 160.16L530.9 160.17L531.4 159.72L531.9 159.64L532.4 159.74L532.9 159.87L533.4 159.76L533.9 159.82L534.4 159.98L534.9 160.11L535.4 160.2L535.9 160.32L536.4 159.97L536.9 159.89L537.4 159.52L537.4 158.32L537.8 115.45L538 118.13L538.5 169.09L539 164.56L539.5 162.1L540 161.13L540.5 160.59L541 160.33L541.5 160.14L542 160.43L542.5 160.55L543 160.37L543.5 160.63L544 160.26L544.5 159.92L545 159.82L545.5 160.14L546 159.98L546.5 160.22L547 160.42L547.5 160.12L548 160.3L548.5 159.99L549 160.38L549.5 160.57L550 160.56L550.5 160.36L551 160.55L551.5 159.99L552 159.71L552.5 159.83L553 159.77L553.5 159.93L554 160.15L554.5 160L555 160.07L555.5 160.23L556 160.45L556.5 160.68L557 160.22L557.5 159.83L558 159.88L558.5 159.69L559 159.91L559.5 159.84L560 159.9L560.5 159.96L561 160.07L561.5 159.77L562 159.13L562.5 158.63L563 158.47L563.5 158.36L563.5 157.36L563.9 115.45L564.1 118.13L564.6 169.09L565.1 164.32L565.6 163.03L566.1 162.06L566.6 162.04L567.1 161.28L567.6 160.43L568.1 159.74L568.6 159.75L569.1 160.15L569.6 160.03L570.1 160.21L570.6 160.11L571.1 160.43L571.6 160.41L572.1 160.45L572.6 160.48L573.1 160.57L573.6 160.77L574.1 160.52L574.6 160.4L575.1 160.03L575.6 159.35L576.1 158.99L576.6 158.98L577.1 159.26L577.6 159.49L578.1 159.51L578.6 160.01L579.1 160.15L579.6 160.45L580.1 160.42L580.6 160.48L581.1 160.56L581.6 160.57L582.1 160.26L582.6 160.27L583.1 159.79L583.6 159.33L584.1 159.59L584.6 159.96L585.1 159.86L585.6 160.12L586.1 159.91L586.6 160.33L587.1 160.39L587.6 160.58L588.1 160.43L588.6 160.57L589.1 160.49L589.6 160.54L590.1 159.99L590.6 159.11L591.1 158.99L591.6 159.25L592.1 159.63L592.6 159.92L593.1 159.95L593.6 159.79L594.1 160.22L594.6 160.42L595.1 160.49L595.6 160.59L596.1 160.62L596.6 160.54L597.1 160.31L597.6 160.46L598.1 160.15L598.6 159.92L599.1 159.62L599.6 159.68L600.1 159.97L600.6 160.12L601.1 160.11L601.6 160.04L602.1 160.15L602.6 160.27L603.1 160.41L603.6 160.38L604.1 160.43L604.6 160.17L605.1 160.25L605.6 159.67L606.1 159.3L606.6 159.51L607.1 159.38L607.6 159.36L608.1 159.18L608.6 159.04L608.6 157.92L609 115.45L609.2 118.13L609.7 169.09L610.2 164.07L610.7 162.67L611.2 161.38L611.7 160.98L612.2 160.69L612.7 160.47L613.2 160.41L613.7 160.3L614.2 160.44L614.7 159.51L615.2 159.01L615.7 159.13L616.2 159.42L616.7 159.49L617.2 159.7L617.7 159.73L618.2 160.03L618.7 160.23L619.2 160.25L619.7 160.06L620.2 159.74L620.7 158.9L621.2 158.66L621.7 158.66L622.2 158.75L622.7 158.9L623.2 159.53L623.7 159.43L624.2 159.73L624.7 159.95L625.2 159.73L625.7 159.84L626.2 159.35L626.7 158.1L627.2 157.57L626.9 156.48L627.3 115.45L627.5 118.13L628 169.09L628.5 163.35L629 162.21L629.5 161.63L630 161.52L630.5 161.04L631 160.64L631.5 159.7L632 158.82L632.5 158.85L633 158.92L633.5 159.04L634 159.26L634.5 159.45L635 159.51L635.5 159.62L636 159.77L636.5 159.35L637 159.39L637.5 159.19L638 159.42L638.5 159.45L639 159.73L639.5 159.77L640 159.45L640.5 159.4L641 158.69L641 157.89L641.4 115.45L641.6 118.13L642.1 169.09L642.6 164.47L643.1 163.2L643.6 162.4L644.1 161.06L644.6 160.32L645.1 160.05L645.6 160.1L646.1 159.95L646.6 159.78L647.1 159.93L647.6 160.1L648.1 160.18L648.6 160.19L649.1 160.14L649.6 160.25L650.1 160.22L650.6 159.88L651.1 159.97L651.6 159.61L652.1 159.05L652.6 158.99L653.1 159.12L653.6 159.14L654.1 159.48L654.6 159.7L655.1 159.87L655.6 159.97L656.1 159.5L656.6 159.39L657.1 159.66L657.6 159.64L658.1 159.75L658.6 159.63L659.1 159.77L659.6 159.77L660.1 159.97L660.6 160.28L661.1 159.01L661.6 158.7L662.1 158.72L662.6 159.16L663.1 159.27L663.6 159.58L664.1 159.81L664.6 159.84L665.1 159.95L665.6 160.21L666.1 160.43L666.6 160.62L667.1 160.44L667.6 160.19L668.1 159.79L668.6 159.47L669.1 159.2L669.6 159.09L670.1 159.06L670.6 159.29L671.1 159.59L671.6 159.8L672.1 160.11L672.6 160.13L673.1 159.03L673.6 158.86L674.1 158.91L674.6 159.22L675.1 159.4L675.6 159.48L676.1 159.73L676.6 159.93L677.1 160.14L677.6 160.22L678.1 159.44L678.6 159.04L679.1 159.15L679.6 158.93L680.1 159.21L680.6 159.28L681.1 159.51L681.6 159.79L682.1 159.5L682.6 159.96L683.1 159.85L683.6 160.08" stroke="#000" stroke-width="1.05" fill="none" stroke-linejoin="round"/>
</g>
<g id="panelE">
<text x="359.7" y="221.8" font-size="16.3" fill="#111" class="pl">E</text>
<text x="541.3" y="213.7" font-size="11.8" font-weight="bold" text-anchor="middle" fill="#111">LFP</text>
<path d="M399.6 217.4V284.4" stroke="#8c8c8c" stroke-width="0.8" fill="none"/><path d="M399.6 218H402.4" stroke="#8c8c8c" stroke-width="0.8"/><text x="397.3" y="221.4" font-size="9.5" text-anchor="end" fill="#1a1a1a">-50</text><path d="M399.6 251.25H402.4" stroke="#8c8c8c" stroke-width="0.8"/><text x="397.3" y="254.65" font-size="9.5" text-anchor="end" fill="#1a1a1a">-55</text><path d="M399.6 284.5H402.4" stroke="#8c8c8c" stroke-width="0.8"/><text x="397.3" y="287.9" font-size="9.5" text-anchor="end" fill="#1a1a1a">-60</text>
<text transform="translate(379.3 251.8) rotate(-90)" font-size="9.5" text-anchor="middle" fill="#1a1a1a">Voltage (mV)</text>
<path d="M400.4 229L400.6 277.7L401 229.7L402.1 236.5L402.9 234.5L403.7 237.9L404.4 229.7L405.3 228.2L405.8 225.3L406.6 227.7L407.6 235.5L408.7 246.2L409.7 243.7L410.5 243.2L411.4 227.7L412.1 232.6L412.8 239.4L413.6 240.8L414.3 244.7L415.3 245.7L416 247.6L416.7 243.2L417.4 243.2L418.4 247.1L419.4 239.4L420.3 234.5L421.3 237.9L422.5 238.4L423.2 241.3L424.4 248.1L425.4 243.7L426.6 239.4L427.9 236.5L428.6 237.4L429.5 237.4L430.5 237L431.5 245.2L432.4 235L433.1 244.7L433.9 239.4L434.7 242.8L435.6 240.3L436.6 240.3L437.8 233.1L438.5 231.6L439.5 233.6L440.4 245.2L441.4 244.2L442.4 246.6L443.3 236.5L444.3 239.4L445.3 243.2L446.5 234.5L447.7 243.2L448.8 242.8L449.8 245.2L451.1 238.4L452 235L452.7 239.4L453.7 235L454.9 244.7L456.2 237.9L457.2 237L458.1 235L459.1 241.3L460.1 242.3L461.1 239.4L462.2 236L463.2 234.5L464.3 231.4L465.6 237.4L466.6 239.4L467.5 247.1L468.5 249.1L469.5 235.5L470.4 246.2L471.4 249.1L472.4 251L473.4 237.4L474.3 248.1L475.3 252L476.3 239.4L477.5 245.4L478.7 256.1L479.9 252.2L480.8 239.1L481.8 247.4L482.6 258L483.7 253.2L484.7 250.3L485.7 235.7L486.7 252.2L487.4 263.8L488.6 254.2L490 244.5L491 243.5L492 252.2L492.7 259L493.6 249.3L495.2 237.7L496.3 252.2L497.1 257.1L498.1 247.4L499.2 241.6L500.2 259L501.4 247.4L502.3 233.3L503.3 245.4L504.3 254.2L505.5 253.7L506.5 254.6L507.5 242.5L508.4 245.4L509.4 247.4L510.7 256.1L511.8 251.2L512.8 245.4L514 251.2L515 257.1L515.7 247.4L516.4 244.5L517.1 251.2L517.7 242.5L518.4 249.3L519 244.5L519.6 253.2L520.6 258L521.7 242.5L522.9 247.4L524.2 260L525.1 250.3L526.4 241.6L527.6 254.2L528.5 248.3L529.5 252.2L530.7 234.8L531.4 246.4L532.2 257.1L533.4 260L534.3 254.2L535.5 250.3L536.8 248.8L537.7 250.3L538.7 256.1L539.7 260L540.6 256.1L541.9 255.1L543.3 237.7L544.3 249.3L545.3 259L546.4 249.3L547.4 243.5L548.6 246.4L549.6 252.2L550.8 253.2L551.8 245.4L552.7 239.6L553.5 247.2L554.7 250.1L556.1 253L557.3 246.2L558.8 242.8L560.2 242.8L561.5 238L562.5 241.4L563.4 248.1L564.6 250.1L565.6 251.1L566.5 248.1L568 239.9L569 245.2L569.9 244.3L570.9 243.3L571.9 246.7L572.5 242.3L573.5 248.1L574.5 250.1L575.7 241.4L577 240.4L578 246.2L578.9 249.1L580.1 248.1L581.2 233.6L582.2 240.4L583.2 242.3L584.2 248.1L585.1 249.6L586.1 246.2L587.1 240.4L588 245.2L589 241.4L590 245.2L591.2 245.6L592.1 240.3L593.4 238.8L594.4 230.1L595.3 238.3L596.3 243.2L597.3 251.4L598.5 238.3L599.5 243.2L600.5 241.2L601.4 250L602.6 246.6L604 246.1L605.3 245.1L606.5 241.2L607.4 244.2L608.4 237.4L609.4 244.2L610.3 238.3L611.3 236.9L612.5 246.1L613.7 244.2L615 239.3L616 237.4L616.9 242.2L618.3 232.5L619.2 240.3L620.5 241.2L621.8 250L622.9 245.1L624.4 243.2L625.6 234.5L626.8 241.2L628 249L629.6 243.6L630.9 247.6L632.5 238L634.1 243.6L635.7 242.8L637.3 244.4L638.6 246L640 238.8L641.6 244.4L643.2 236.4L644.3 235.6L645.6 247.6L647.2 243.6L649.1 226.8L650.4 238L651.7 254L653.3 249.2L654.9 242.8L656.5 241.2L657.8 234L659.4 246L661 254.8L662.4 247.6L664 243.6L665.6 242L666.4 243.6L667.7 227.6L668.3 218.8L668.5 276.4" stroke="#000" stroke-width="1.25" fill="none" stroke-linejoin="round"/>
</g>
<g id="panelF">
<text x="360.1" y="306.6" font-size="16.3" fill="#111" class="pl">F</text>
<text x="541.8" y="315.8" font-size="11.8" font-weight="bold" text-anchor="middle" fill="#111">Input</text>
<path d="M399.6 320.4V387.6" stroke="#8c8c8c" stroke-width="0.8" fill="none"/><path d="M399.6 320.7H402.4" stroke="#8c8c8c" stroke-width="0.8"/><text x="397.3" y="324.1" font-size="9.5" text-anchor="end" fill="#1a1a1a">1</text><path d="M399.6 354.05H402.4" stroke="#8c8c8c" stroke-width="0.8"/><text x="397.3" y="357.45" font-size="9.5" text-anchor="end" fill="#1a1a1a">0.5</text><path d="M399.6 387.4H402.4" stroke="#8c8c8c" stroke-width="0.8"/><text x="397.3" y="390.8" font-size="9.5" text-anchor="end" fill="#1a1a1a">0</text>
<path d="M399.6 387.5H682.3" stroke="#8c8c8c" stroke-width="0.8" fill="none"/>
<path d="M400 387.6V384.8" stroke="#8c8c8c" stroke-width="0.8"/>
<text x="400" y="399.6" font-size="9.5" text-anchor="middle" fill="#1a1a1a">0</text>
<path d="M470.57 387.6V384.8" stroke="#8c8c8c" stroke-width="0.8"/>
<text x="470.57" y="399.6" font-size="9.5" text-anchor="middle" fill="#1a1a1a">0.5</text>
<path d="M541.15 387.6V384.8" stroke="#8c8c8c" stroke-width="0.8"/>
<text x="541.15" y="399.6" font-size="9.5" text-anchor="middle" fill="#1a1a1a">1</text>
<path d="M611.73 387.6V384.8" stroke="#8c8c8c" stroke-width="0.8"/>
<text x="611.73" y="399.6" font-size="9.5" text-anchor="middle" fill="#1a1a1a">1.5</text>
<path d="M682.3 387.6V384.8" stroke="#8c8c8c" stroke-width="0.8"/>
<text x="682.3" y="399.6" font-size="9.5" text-anchor="middle" fill="#1a1a1a">2</text>
<text x="541.5" y="411.4" font-size="9.4" text-anchor="middle" fill="#1a1a1a">Time (s)</text>
<text transform="translate(380.4 353.4) rotate(-90)" font-size="9.6" text-anchor="middle" fill="#1a1a1a">Pulse strength (a.u)</text>
<path d="M400 387.4L470.57 387.4L471.28 382.67L471.99 378.28L472.69 374.2L473.4 370.4L474.1 366.88L474.81 363.61L475.52 360.57L476.22 357.74L476.93 355.11L477.63 352.67L478.34 350.41L479.04 348.3L479.75 346.34L480.46 344.53L481.16 342.84L481.87 341.27L482.57 339.81L483.28 338.46L483.98 337.2L484.69 336.03L485.4 334.94L486.1 333.93L486.81 332.99L487.51 332.12L488.22 331.31L488.92 330.56L489.63 329.86L490.34 329.21L491.04 328.61L491.75 328.05L492.45 327.53L493.16 327.04L493.86 326.59L494.57 326.18L495.28 325.79L495.98 325.43L496.69 325.09L497.39 324.78L498.1 324.49L498.81 324.22L499.51 323.97L500.22 323.74L500.92 323.52L501.63 323.32L502.33 323.14L503.04 322.97L503.75 322.81L504.45 322.66L505.16 322.52L505.86 322.39L506.57 322.27L507.27 322.16L507.98 322.05L508.69 321.96L509.39 321.87L510.1 321.79L510.8 321.71L511.51 321.64L512.21 321.57L512.92 321.51L513.63 321.45L514.33 321.4L515.04 321.35L515.74 321.3L516.45 321.26L517.15 321.22L517.86 321.18L518.57 321.15L519.27 321.12L519.98 321.09L520.68 321.06L521.39 321.03L522.09 321.01L522.8 320.99L523.51 320.97L524.21 320.95L524.92 320.93L525.62 320.92L526.33 320.9L527.04 320.89L527.74 320.87L528.45 320.86L529.15 320.85L529.86 320.84L530.56 320.83L531.27 320.82L531.98 320.81L532.68 320.8L533.39 320.8L534.09 320.79L534.8 320.78L535.5 320.78L536.21 320.77L536.92 320.77L537.62 320.76L538.33 320.76L539.03 320.75L539.74 320.75L540.44 320.75L541.15 320.74L542.56 323.92L543.97 326.94L545.38 329.82L546.8 332.56L548.21 335.17L549.62 337.66L551.03 340.02L552.44 342.28L553.85 344.43L555.27 346.47L556.68 348.42L558.09 350.28L559.5 352.05L560.91 353.73L562.32 355.33L563.73 356.86L565.15 358.31L566.56 359.7L567.97 361.02L569.38 362.27L570.79 363.47L572.2 364.61L573.61 365.69L575.03 366.73L576.44 367.71L577.85 368.65L579.26 369.54L580.67 370.39L582.08 371.2L583.5 371.97L584.91 372.71L586.32 373.41L587.73 374.07L589.14 374.71L590.55 375.31L591.96 375.89L593.38 376.44L594.79 376.96L596.2 377.45L597.61 377.93L599.02 378.38L600.43 378.81L601.84 379.22L603.26 379.61L604.67 379.98L606.08 380.33L607.49 380.67L608.9 380.99L610.31 381.29L611.73 381.58L613.14 381.86L614.55 382.13L615.96 382.38L617.37 382.62L618.78 382.84L620.19 383.06L621.61 383.27L623.02 383.46L624.43 383.65L625.84 383.83L627.25 384L628.66 384.16L630.07 384.32L631.49 384.46L632.9 384.6L634.31 384.74L635.72 384.86L637.13 384.98L638.54 385.1L639.96 385.21L641.37 385.31L642.78 385.41L644.19 385.51L645.6 385.6L647.01 385.68L648.42 385.76L649.84 385.84L651.25 385.92L652.66 385.99L654.07 386.05L655.48 386.12L656.89 386.18L658.3 386.24L659.72 386.29L661.13 386.35L662.54 386.4L663.95 386.44L665.36 386.49L666.77 386.53L668.19 386.57L669.6 386.61L671.01 386.65L672.42 386.69L673.83 386.72L675.24 386.75L676.65 386.78L678.07 386.81L679.48 386.84L680.89 386.87L682.3 386.89" stroke="#000" stroke-width="1.1" fill="none" stroke-linejoin="round"/>
</g>
</svg>
</body></html>
